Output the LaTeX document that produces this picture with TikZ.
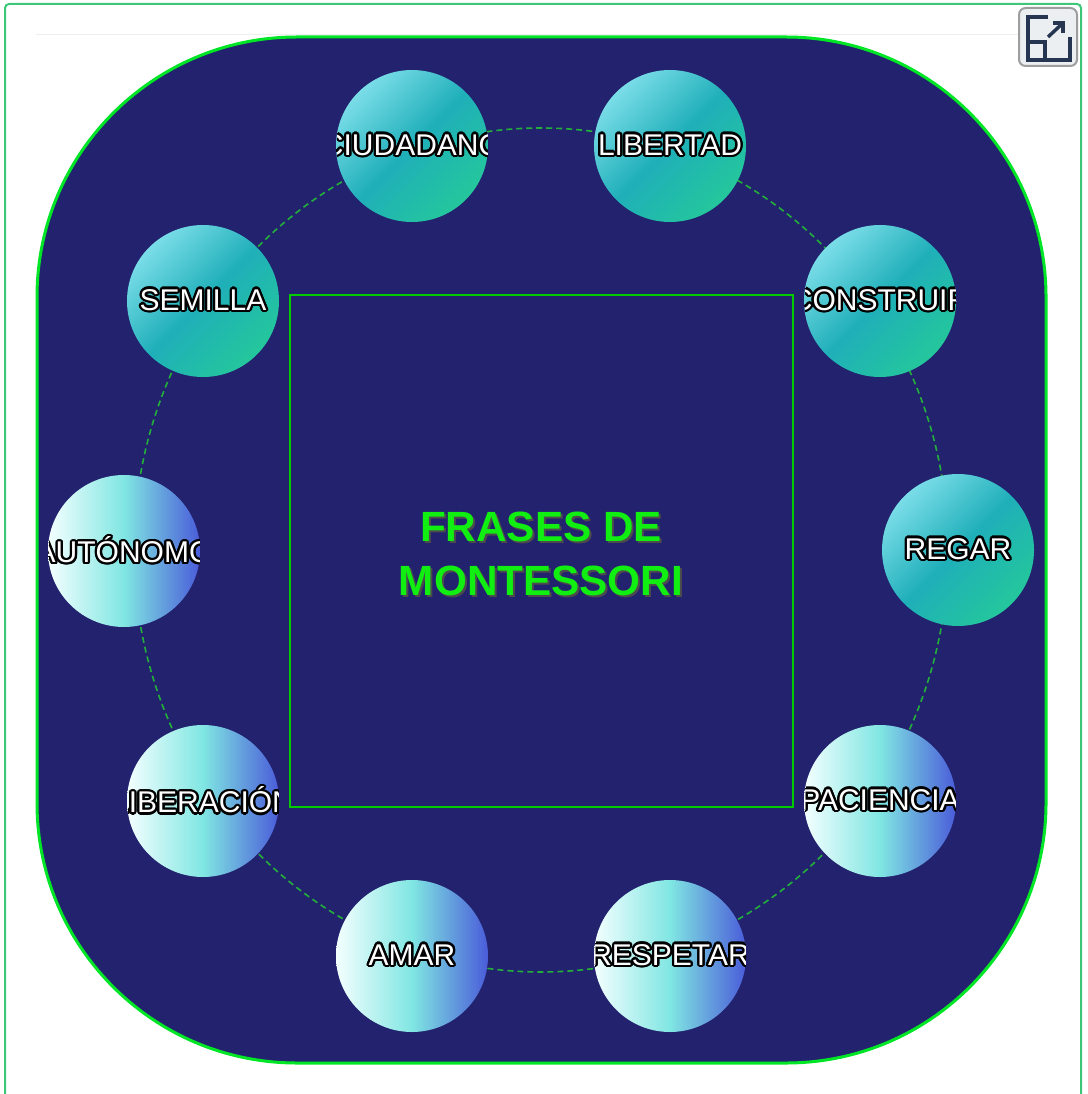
\documentclass[tikz,border=0pt]{standalone}
\usepackage{fontspec}
\setmainfont{Liberation Sans}
\usepackage{xcolor}
\usepackage{contour}
\contourlength{1.7pt}
\definecolor{cNavy}{HTML}{22226E}
\definecolor{cRim}{HTML}{00E626}
\definecolor{cBox}{HTML}{00CC00}
\definecolor{cDash}{HTML}{22B03A}
\definecolor{cFrame}{HTML}{3CC878}
\definecolor{cRule}{HTML}{EEEEEE}
\definecolor{cTitle}{HTML}{11EE11}
\definecolor{cTopA}{HTML}{7ADDE8}
\definecolor{cTopB}{HTML}{1FAFB9}
\definecolor{cTopC}{HTML}{24C79C}
\definecolor{cLowA}{HTML}{F4FFFF}
\definecolor{cLowB}{HTML}{80E6E2}
\definecolor{cLowC}{HTML}{4A5CD9}
\definecolor{cBtnFill}{HTML}{ECEFF1}
\definecolor{cBtnDraw}{HTML}{9E9E9E}
\definecolor{cIcon}{HTML}{263552}
\usetikzlibrary{positioning,arrows.meta}
\tikzset{
  ball/.style={circle,inner sep=0pt,minimum size=114pt},
  ball-top/.style={ball,top color=cTopA,bottom color=cTopC,
    middle color=cTopB,shading angle=45},
  ball-low/.style={ball,left color=cLowA,right color=cLowC,middle color=cLowB},
  % the word is clipped by the ball, as in the page
  ball-text/.style={path picture={\node[text=white,
      font=\fontsize{22.5}{25}\selectfont]
      at (path picture bounding box.center) {\contour{black}{#1}};}},
  stage/.style={fill=cNavy,draw=cRim,line width=2.25pt,rounded corners=195pt},
  ring/.style={draw=cDash,dashed,dash pattern=on 4.5pt off 3pt,line width=1.2pt},
  panel-box/.style={draw=cBox,line width=1.8pt,inner sep=0pt,
    minimum width=377pt,minimum height=384pt},
  title-text/.style={align=center,font=\bfseries\fontsize{31.7}{40.5}\selectfont},
  btn/.style={draw=cBtnDraw,fill=cBtnFill,line width=1.5pt,rounded corners=5pt,
    minimum size=43.5pt,inner sep=0pt},
  icon/.style={draw=cIcon,line width=2.6pt},
}

\begin{document}
\begin{tikzpicture}[x=0.75pt,y=0.75pt]
  \useasboundingbox (0,0) rectangle (1087,-1094);
  \draw[cFrame,line width=1.5pt,rounded corners=3pt] (5,-4) rectangle (1081,-1120);
  \draw[cRule,line width=0.75pt] (36,-35) -- (1018,-35);

  \draw[stage] (37,-37) rectangle (1046,-1063);
  \draw[ring] (541,-550) ellipse [x radius=407,y radius=422];
  \node[panel-box] (panel) at (541.5,-551) {};

  \node[title-text,text=black!70] (title-shadow) at (543,-556) {FRASES DE\\MONTESSORI};
  \node[title-text,text=cTitle] (title) at (541,-554) {FRASES DE\\MONTESSORI};

  \node[ball-top,ball-text=CIUDADANO] (ciudadano) at (412,-146) {};
  \node[ball-top,ball-text=LIBERTAD] (libertad) at (670,-146) {};
  \node[ball-top,ball-text=CONSTRUIR] (construir) at (880,-301) {};
  \node[ball-top,ball-text=REGAR] (regar) at (958,-550) {};
  \node[ball-top,ball-text=SEMILLA] (semilla) at (203,-301) {};
  \node[ball-low,ball-text=PACIENCIA] (paciencia) at (880,-801) {};
  \node[ball-low,ball-text=RESPETAR] (respetar) at (670,-956) {};
  \node[ball-low,ball-text=AMAR] (amar) at (412,-956) {};
  \node[ball-low,ball-text=LIBERACIÓN] (liberacion) at (203,-801) {};
  \node[ball-low,ball-text=AUTÓNOMO] (autonomo) at (124,-551) {};

  \node[btn] (expand) at (1048,-37) {};
  \begin{scope}[shift={(expand.center)}]
    \draw[icon] (0,20) -- (-20,20) -- (-20,-23) -- (22,-23) -- (22,0);
    \draw[icon] (-20,-5) rectangle (-3,-23);
    \draw[icon] (0,0) -- (15,14);
    \draw[icon] (5,14) -- (15,14) -- (15,4);
  \end{scope}
\end{tikzpicture}
\end{document}
